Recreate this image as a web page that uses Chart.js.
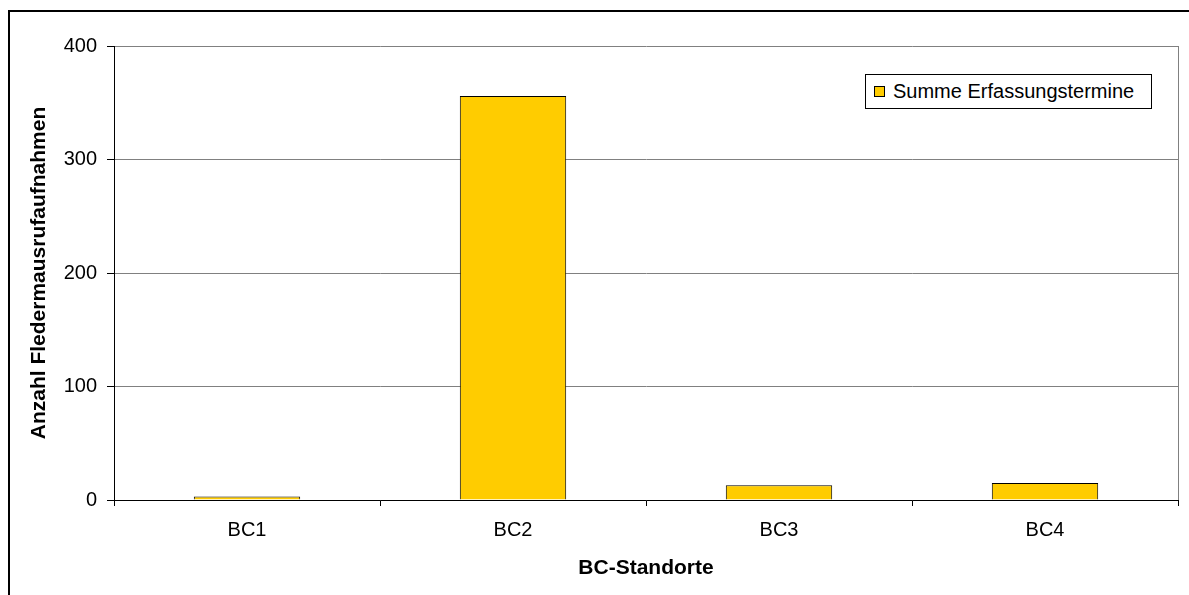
<!DOCTYPE html>
<html>
<head>
<meta charset="utf-8">
<script src="https://cdn.jsdelivr.net/npm/chart.js@4/dist/chart.umd.min.js"></script>
<style>
  html, body { margin: 0; padding: 0; background: #fff; overflow: hidden; }
  #wrap { position: relative; width: 1189px; height: 595px; }
  #frame {
    position: absolute; left: 8px; top: 10px; width: 1300px; height: 700px;
    border-left: 2px solid #000; border-top: 2px solid #000;
  }
  #chart { position: absolute; left: 0; top: 0; }
  #legend {
    position: absolute; left: 865px; top: 74px; width: 285px; height: 33px;
    border: 1px solid #000; background: #fff;
    font-family: Arial, "Liberation Sans", sans-serif; font-size: 20px; color: #000;
    display: flex; align-items: center; box-sizing: content-box;
  }
  #legend .box {
    width: 9px; height: 9px; margin-left: 8px; margin-right: 8px;
    border: 1px solid #000;
  }
</style>
</head>
<body>
<div id="wrap">
  <div id="frame"></div>
  <canvas id="chart" width="1189" height="595"></canvas>
  <div id="legend"></div>
</div>
<script>
// Bat call recordings per BC site
const standorte = ["BC1", "BC2", "BC3", "BC4"];
const summeErfassung = [3, 356, 13, 15];
const serienName = "Summe Erfassungstermine";
const yTicks = [0, 100, 200, 300, 400];

const barFill = "#FFCC00";
const labelFont = { family: "Arial, 'Liberation Sans', sans-serif", size: 20 };
const titleFont = { family: "Arial, 'Liberation Sans', sans-serif", size: 21, weight: "bold" };

// html legend box inside the plot
const legendDiv = document.getElementById("legend");
legendDiv.innerHTML = '<span class="box" style="background:' + barFill + '"></span><span>' + serienName + '</span>';

const ctx = document.getElementById("chart").getContext("2d");

new Chart(ctx, {
    type: 'bar',
    data: {
        labels: standorte,
        datasets: [{
            label: serienName,
            data: summeErfassung,
            backgroundColor: barFill,
            borderColor: '#000',
            borderWidth: 1,
            barPercentage: 0.4,
            categoryPercentage: 1.0
        }]
    },
    options: {
        responsive: false,
        animation: false,
        layout: { padding: { top: 46, right: 11, left: 0, bottom: 0 } },
        plugins: {
            legend: { display: false },
            tooltip: { enabled: false }
        },
        scales: {
            x: {
                afterFit: (scale) => { scale.height = 95; },
                grid: {
                    offset: true,
                    drawOnChartArea: true,
                    // the closing line after the last category gets the scale context,
                    // so only the right edge of the plot is drawn
                    color: (c) => c.type === 'tick' ? 'rgba(0,0,0,0)' : '#808080',
                    tickColor: '#000',
                    tickLength: 6
                },
                border: { color: '#000', width: 1 },
                ticks: { color: '#000', font: labelFont, padding: 12 },
                title: {
                    display: true,
                    text: 'BC-Standorte',
                    color: '#000',
                    font: titleFont,
                    padding: { top: 0, bottom: 14 }
                }
            },
            y: {
                min: 0,
                max: 400,
                afterFit: (scale) => { scale.width = 114; },
                afterBuildTicks: (scale) => { scale.ticks = yTicks.map(v => ({ value: v })); },
                grid: {
                    color: '#808080',
                    tickColor: '#000',
                    tickLength: 7
                },
                border: { color: '#000', width: 1 },
                ticks: { color: '#000', font: labelFont, padding: 10 },
                title: {
                    display: true,
                    text: 'Anzahl Fledermausrufaufnahmen',
                    color: '#000',
                    font: titleFont,
                    padding: { top: 27, bottom: 0 }
                }
            }
        }
    }
});
</script>
</body>
</html>
